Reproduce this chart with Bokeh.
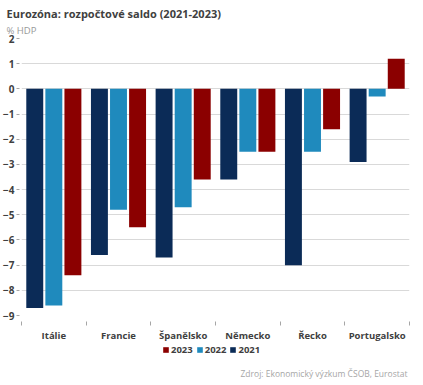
import numpy as np
from bokeh.plotting import figure
from bokeh.layouts import column
from bokeh.models import (Range1d, FixedTicker, Label, Legend, LegendItem, ColumnDataSource, Title)
from bokeh.embed import file_html
from bokeh.resources import INLINE

countries = ["Itálie", "Francie", "Španělsko", "Německo", "Řecko", "Portugalsko"]
years = ["2021", "2022", "2023"]
v2021 = [-8.7, -6.6, -6.7, -3.6, -7.0, -2.9]
v2022 = [-8.6, -4.8, -4.7, -2.5, -2.5, -0.3]
v2023 = [-7.4, -5.5, -3.6, -2.5, -1.6, 1.2]
y_ticks = list(range(-9, 3))
colors = {"2021": "#0b2b57", "2022": "#1f8abd", "2023": "#8b0000"}

FONT = "Open Sans"
TXT = "#404040"
W = 414

p = figure(width=W, height=344, output_backend="svg", toolbar_location=None,
           x_range=Range1d(0, len(countries)), y_range=Range1d(-9, 2),
           min_border_left=15, min_border_right=5, min_border_top=38, min_border_bottom=26)
p.outline_line_color = None

centers = np.arange(len(countries)) + 0.5
offsets = {"2021": -0.295, "2022": 0.0, "2023": 0.295}
vals = {"2021": v2021, "2022": v2022, "2023": v2023}
for yr in years:
    src = ColumnDataSource(dict(x=centers + offsets[yr], top=vals[yr]))
    p.vbar(x="x", top="top", bottom=0, width=0.262, source=src,
           fill_color=colors[yr], line_color=None)

# titles
p.add_layout(Title(text="% HDP", text_font=FONT, text_font_size="9.5px", text_color="#999999",
                   text_font_style="normal", align="left", offset=-15, standoff=3), "above")
p.add_layout(Title(text="Eurozóna: rozpočtové saldo (2021-2023)", text_font=FONT,
                   text_font_size="11px", text_color=TXT, text_font_style="bold",
                   align="left", offset=-15, standoff=0), "above")

# axes
xa = p.xaxis[0]
xa.ticker = FixedTicker(ticks=list(centers), minor_ticks=list(range(len(countries) + 1)))
xa.major_label_overrides = {float(c): n for c, n in zip(centers, countries)}
xa.major_tick_line_color = None
xa.major_tick_in = 0
xa.major_tick_out = 0
xa.axis_line_color = None
xa.minor_tick_in = -6
xa.minor_tick_out = 10
xa.minor_tick_line_color = "#a6a6a6"
xa.major_label_text_font = FONT
xa.major_label_text_font_style = "bold"
xa.major_label_text_font_size = "9.5px"
xa.major_label_text_color = TXT
xa.major_label_standoff = 3

ya = p.yaxis[0]
ya.ticker = FixedTicker(ticks=y_ticks)
ya.axis_line_color = None
ya.minor_tick_line_color = None
ya.major_tick_in = -2
ya.major_tick_out = 5
ya.major_tick_line_color = "#a6a6a6"
ya.major_label_text_font = FONT
ya.major_label_text_font_style = "bold"
ya.major_label_text_font_size = "10px"
ya.major_label_text_color = TXT
ya.major_label_standoff = 2

p.xgrid.grid_line_color = None
p.ygrid.ticker = FixedTicker(ticks=y_ticks)
p.ygrid.grid_line_color = "#d9d9d9"
p.ygrid.grid_line_width = 1

# legend + source strip
q = figure(width=W, height=38, output_backend="svg", toolbar_location=None,
           x_range=Range1d(0, 1), y_range=Range1d(0, 1),
           min_border_left=0, min_border_right=0, min_border_top=0, min_border_bottom=0)
q.outline_line_color = None
q.axis.visible = False
q.grid.visible = False
leg_r = {}
for yr in years:
    leg_r[yr] = q.vbar(x=[np.nan], top=[np.nan], width=0.1, fill_color=colors[yr], line_color=None)
legend = Legend(items=[LegendItem(label=yr, renderers=[leg_r[yr]]) for yr in ["2023", "2022", "2021"]],
                orientation="horizontal", location=(141, 26),
                glyph_width=7, glyph_height=7, label_standoff=2, spacing=3, padding=0, margin=0,
                border_line_color=None, background_fill_alpha=0,
                label_text_font=FONT, label_text_font_size="9.5px", label_text_color=TXT,
                label_text_font_style="bold", label_height=12)
q.add_layout(legend, "center")
q.add_layout(Label(x=386, y=9, x_units="screen", y_units="screen",
                   text="Zdroj: Ekonomický výzkum ČSOB, Eurostat", text_font=FONT,
                   text_font_size="8.5px", text_color="#a6a6a6",
                   text_baseline="middle", text_align="right"))

layout = column(p, q, spacing=0)
open("out.html", "w").write(file_html(layout, INLINE))
